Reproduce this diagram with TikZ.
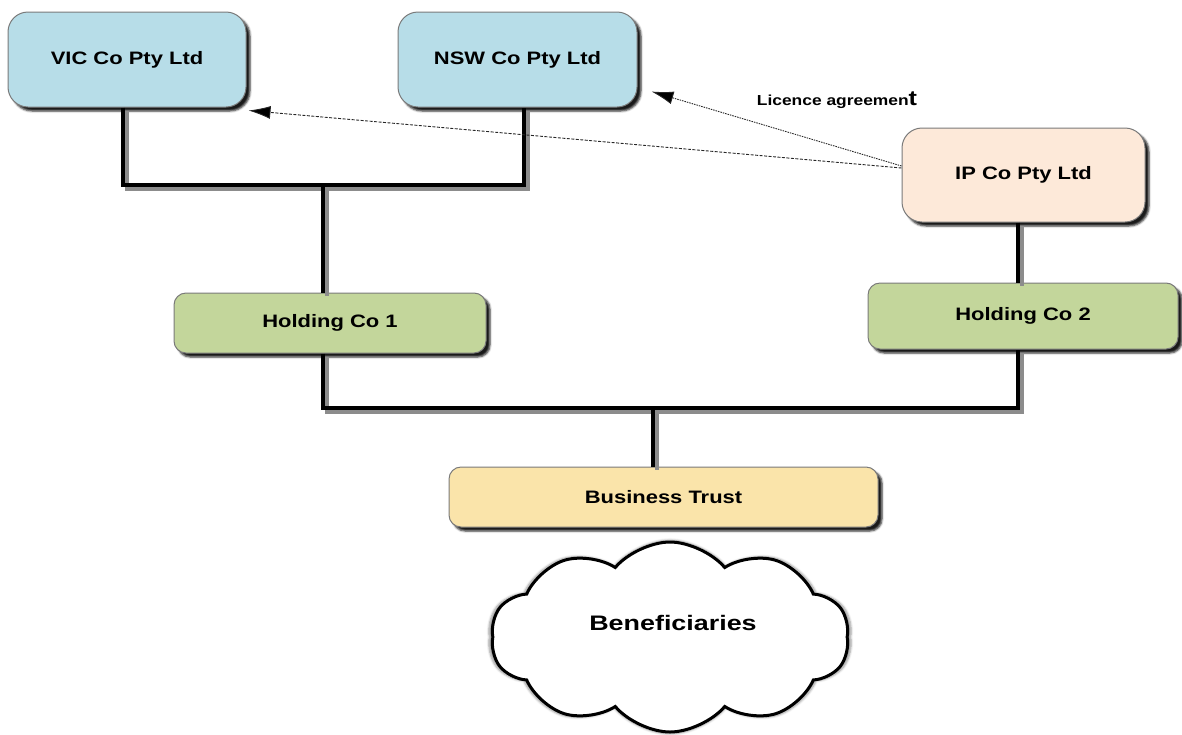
\documentclass[tikz,border=0pt]{standalone}
\usepackage{fontspec}
\setmainfont{Liberation Sans}
\usetikzlibrary{shapes.symbols,shadows.blur,arrows.meta,calc}
\definecolor{cblue}{HTML}{B7DDE8}
\definecolor{cpeach}{HTML}{FDE9D9}
\definecolor{cgreen}{HTML}{C3D69B}
\definecolor{cyell}{HTML}{FAE4AA}
\definecolor{cborder}{HTML}{7A7A7A}
\newcommand{\bx}[1]{\scalebox{1.22}[1]{\bfseries #1}}
\tikzset{
  company/.style={draw=cborder, line width=1pt, inner sep=0pt,
    blur shadow={shadow xshift=4pt, shadow yshift=-4pt, shadow blur steps=4, shadow blur radius=2pt, shadow opacity=90},
    font=\fontsize{18}{20}\selectfont},
  conn/.style={line width=4pt, black},
  connshadow/.style={line width=4pt, black!45},
  licence/.style={dash pattern=on 3pt off 1.5pt, line width=0.9pt, black!85,
    -{Latex[length=22pt,width=13pt,fill=black]}}
}
\begin{document}
\begin{tikzpicture}[x=1pt,y=-1pt]
\useasboundingbox (0,0) rectangle (1182,734);
% nodes
\node[company, fill=cblue, rounded corners=20pt, minimum width=238pt, minimum height=95pt] (vic) at (127,59.5) {\bx{VIC Co Pty Ltd}};
\node[company, fill=cblue, rounded corners=20pt, minimum width=239pt, minimum height=95pt] (nsw) at (517.5,59.5) {\bx{NSW Co Pty Ltd}};
\node[company, fill=cpeach, rounded corners=20pt, minimum width=243pt, minimum height=94pt] (ip) at (1023.5,175) {\bx{IP Co Pty Ltd}};
\node[company, fill=cgreen, rounded corners=12pt, minimum width=312pt, minimum height=60pt] (hc1) at (330,323) {\bx{Holding Co 1}};
\node[company, fill=cgreen, rounded corners=12pt, minimum width=310pt, minimum height=66pt] (hc2) at (1023,316) {\bx{Holding Co 2}};
\node[company, fill=cyell, rounded corners=12pt, minimum width=429pt, minimum height=60pt] (bt) at (663.5,497) {\bx{Business Trust}};
\node[cloud, cloud puffs=10, cloud puff arc=100, cloud ignores aspect, draw=black, line width=3pt, fill=white,
  minimum width=358pt, minimum height=190pt, inner sep=0pt,
  blur shadow={shadow xshift=0pt, shadow yshift=0pt, shadow scale=1.02, shadow blur steps=5, shadow opacity=40}] (ben) at (670,637) {};
\node[font=\fontsize{21}{24}\selectfont] (bentext) at (673,623) {\scalebox{1.28}[1]{\bfseries Beneficiaries}};
\node[font=\fontsize{14.5}{16}\selectfont] (lic) at (837,100) {\scalebox{1.2}[1]{\bfseries Licence agreemen{\fontsize{21}{20}\selectfont t}}};
% junction coordinates
\coordinate (j1) at (323,185);
\coordinate (j2) at (653,408);
% connector shadows
\begin{scope}[transform canvas={shift={(3.5pt,-3.5pt)}}]
\draw[connshadow] ([xshift=-4pt]vic.south) |- (j1) -| ([xshift=6.5pt]nsw.south);
\draw[connshadow] (j1) -- ([xshift=-7pt]hc1.north);
\draw[connshadow] ([xshift=-7pt]hc1.south) |- (j2) -| ([xshift=-5pt]hc2.south);
\draw[connshadow] (j2) -- ([xshift=-10.5pt]bt.north);
\draw[connshadow] ([xshift=-5.5pt]ip.south) -- ([xshift=-5pt]hc2.north);
\end{scope}
% ownership connectors
\draw[conn] ([xshift=-4pt]vic.south) |- (j1) -| ([xshift=6.5pt]nsw.south);
\draw[conn] (j1) -- ([xshift=-7pt]hc1.north);
\draw[conn] ([xshift=-7pt]hc1.south) |- (j2) -| ([xshift=-5pt]hc2.south);
\draw[conn] (j2) -- ([xshift=-10.5pt]bt.north);
\draw[conn] ([xshift=-5.5pt]ip.south) -- ([xshift=-5pt]hc2.north);
% licence arrows
\draw[licence] ([yshift=7pt]ip.west) -- ([xshift=2pt,yshift=-3pt]vic.south east);
\draw[licence, dash pattern=on 1.5pt off 1pt] ([yshift=9pt]ip.west) -- ([xshift=14pt,yshift=16pt]nsw.south east);
\end{tikzpicture}
\end{document}
